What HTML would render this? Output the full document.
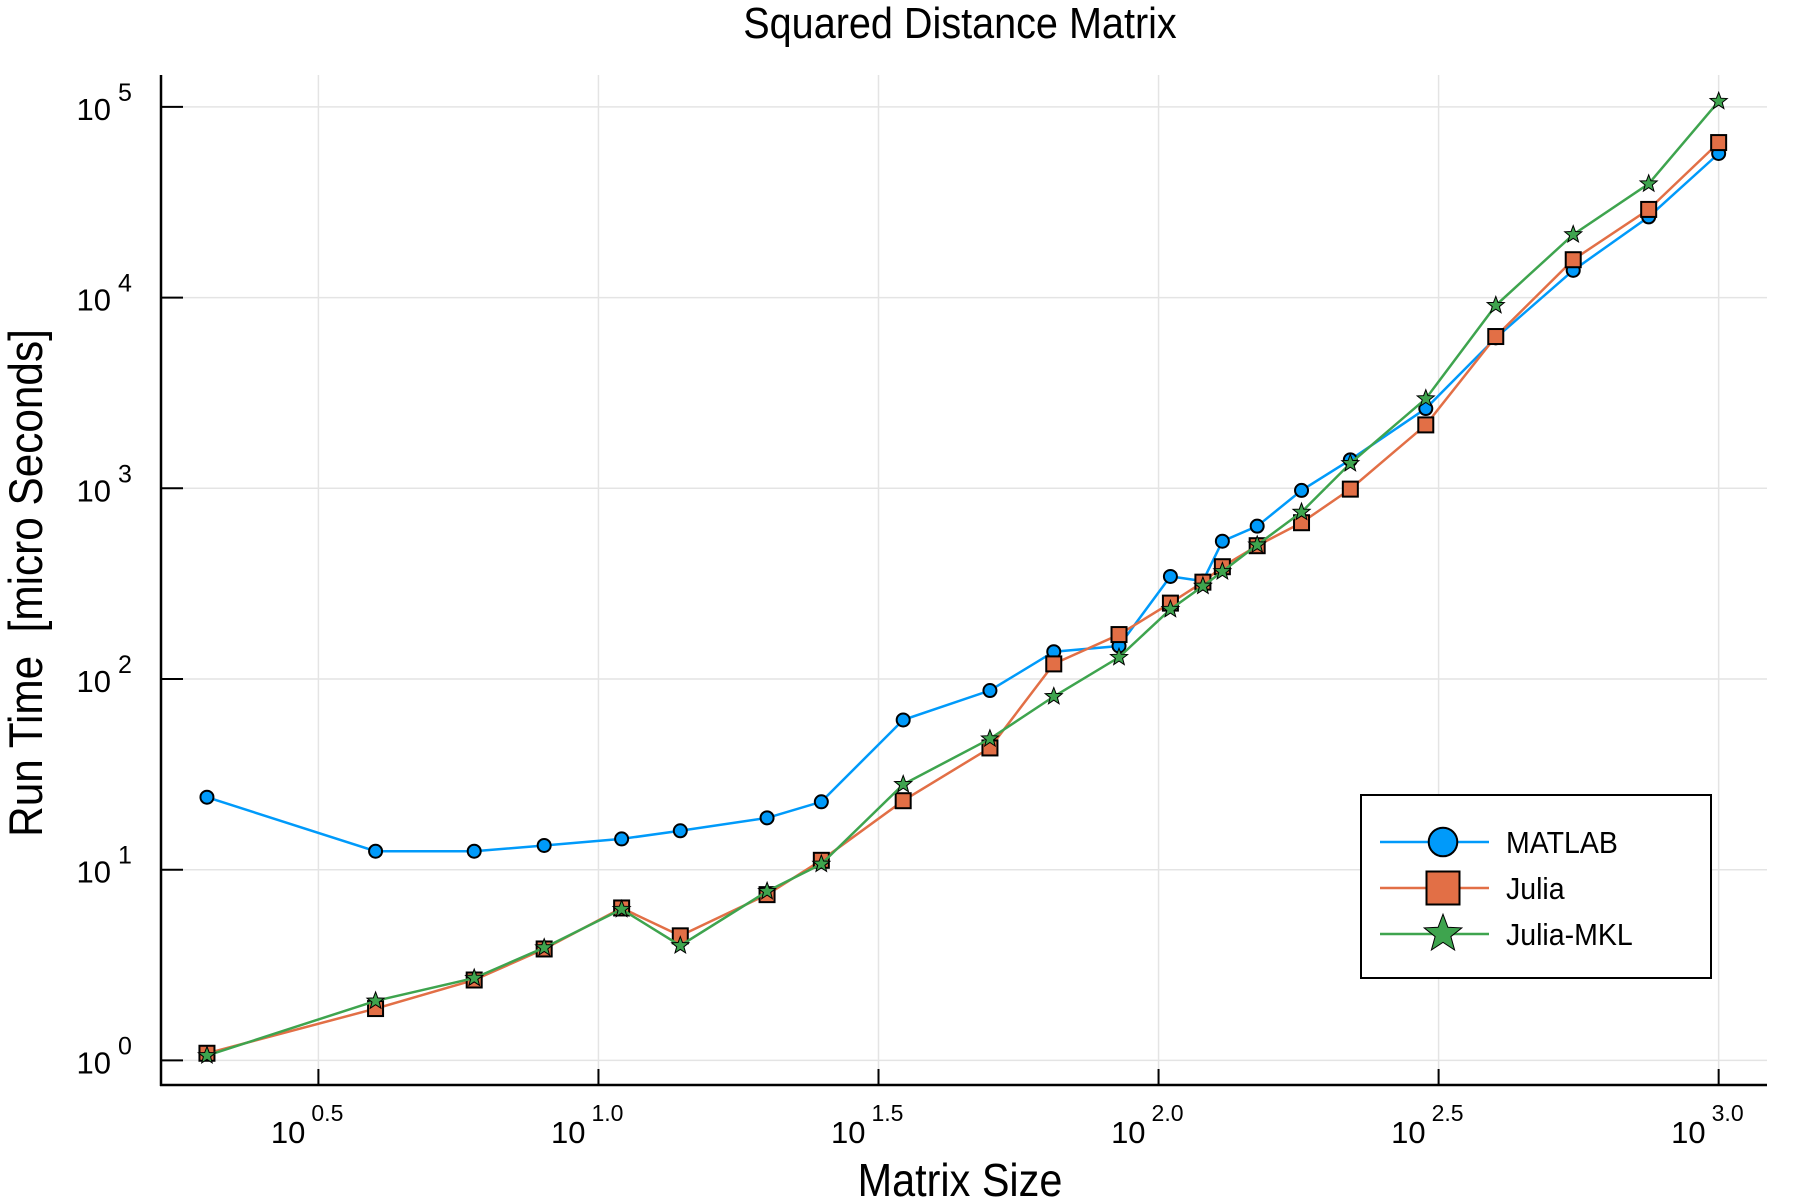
<!DOCTYPE html>
<html><head><meta charset="utf-8"><style>
html,body{margin:0;padding:0;background:#fff}
svg{display:block;font-family:"Liberation Sans",sans-serif}
</style></head><body>
<svg id="chart" width="1800" height="1200" viewBox="0 0 1800 1200" xmlns="http://www.w3.org/2000/svg">
<text x="960" y="38" font-size="44" text-anchor="middle" transform="translate(960 0) scale(0.9 1) translate(-960 0)">Squared Distance Matrix</text>
<g id="grid"></g>
<g id="axes"></g>
<g id="series"></g>
<text x="960" y="1196" font-size="46" text-anchor="middle" transform="translate(960 0) scale(0.9 1) translate(-960 0)">Matrix Size</text>
<text transform="translate(42 583) rotate(-90) scale(0.9 1)" font-size="47" text-anchor="middle" xml:space="preserve">Run Time &#160;[micro Seconds]</text>
<g id="legend"></g>
</svg>
<script>
const sizes=[2,4,6,8,11,14,20,25,35,50,65,85,105,120,130,150,180,220,300,400,550,750,1000];
const matlab=[24,12.5,12.5,13.4,14.5,16,18.7,22.7,61,87,139,149,345,326,528,633,975,1410,2620,6150,13900,26500,57000];
const julia=[1.09,1.87,2.64,3.84,6.3,4.5,7.4,11.2,23,43.5,120,171,250,322,388,500,660,990,2150,6250,15800,29000,65000];
const juliaMkl=[1.06,2.05,2.7,3.9,6.2,4.0,7.7,10.7,28,48.6,81,130,232,307,366,505,750,1350,2950,9100,21400,39500,107000];
const xTickExps=["0.5","1.0","1.5","2.0","2.5","3.0"];
const yTickExps=["0","1","2","3","4","5"];
const seriesNames=["MATLAB","Julia","Julia-MKL"];

const NS="http://www.w3.org/2000/svg";
const L=161,R=1767,T=75,B=1085;
const X0=318.4,XD=560.1;
const Y0=1060.4,YD=190.7;
function xs(v){return X0+(Math.log10(v)-0.5)*XD;}
function xe(e){return X0+(e-0.5)*XD;}
function ys(v){return Y0-Math.log10(v)*YD;}
function ye(e){return Y0-e*YD;}
function mk(tag,attrs,parent){const el=document.createElementNS(NS,tag);for(const k in attrs)el.setAttribute(k,attrs[k]);parent.appendChild(el);return el;}
const grid=document.getElementById('grid'),axes=document.getElementById('axes'),ser=document.getElementById('series'),leg=document.getElementById('legend');

xTickExps.forEach(e=>{const x=xe(parseFloat(e));
 const g=mk('line',{x1:x,x2:x,y1:T,y2:B,stroke:'#e4e4e4','stroke-width':1.5},grid);
 
 const t=mk('line',{x1:x,x2:x,y1:B,y2:B-16,stroke:'#000','stroke-width':2},axes);
 
 const lb=mk('text',{x:x-13,y:1143,'font-size':31,'text-anchor':'end'},axes);lb.textContent='10';
 
 const sp=mk('text',{x:x-7,y:1121,'font-size':23},axes);sp.textContent=e;
 
});
yTickExps.forEach(e=>{const y=ye(parseFloat(e));
 const g=mk('line',{x1:L,x2:R,y1:y,y2:y,stroke:'#e4e4e4','stroke-width':1.5},grid);
 
 const t=mk('line',{x1:L,x2:L+22,y1:y,y2:y,stroke:'#000','stroke-width':2},axes);
 
 const lb=mk('text',{x:111,y:y+13,'font-size':31,'text-anchor':'end'},axes);lb.textContent='10';
 
 const sp=mk('text',{x:118,y:y-6,'font-size':25},axes);sp.textContent=e;
 
});
const ax1=mk('line',{x1:L,x2:L,y1:T,y2:B+1,stroke:'#000','stroke-width':2.5},axes);

const ax2=mk('line',{x1:L-1,x2:R,y1:B,y2:B,stroke:'#000','stroke-width':2.5},axes);


const colors=['#009AFA','#E26F46','#3EA44E'];
function starPts(cx,cy,r){let p=[];for(let i=0;i<10;i++){const a=-Math.PI/2+i*Math.PI/5;const rr=i%2?r*0.42:r;p.push((cx+rr*Math.cos(a)).toFixed(1)+','+(cy+rr*Math.sin(a)).toFixed(1));}return p.join(' ');}
function marker(kind,x,y,c,parent,scale){
 let m;
 if(kind===0)m=mk('circle',{cx:x,cy:y,r:6.5*scale,fill:c,stroke:'#000','stroke-width':2},parent);
 else if(kind===1)m=mk('rect',{x:x-7.5*scale,y:y-7.5*scale,width:15*scale,height:15*scale,fill:c,stroke:'#000','stroke-width':2},parent);
 else m=mk('polygon',{points:starPts(x,y,9*scale),fill:c,stroke:'#000','stroke-width':1},parent);
 return m;
}
[matlab,julia,juliaMkl].forEach((vals,k)=>{
 const g=mk('g',{},ser);
 
 
 const pts=vals.map((v,i)=>xs(sizes[i]).toFixed(1)+','+ys(v).toFixed(1)).join(' ');
 const pl=mk('polyline',{points:pts,fill:'none',stroke:colors[k],'stroke-width':2.5},g);
 
 
 vals.forEach((v,i)=>{const m=marker(k,xs(sizes[i]),ys(v),colors[k],g,1);
  
  });
});
const box=mk('rect',{x:1361,y:795,width:350,height:183,fill:'#fff',stroke:'#000','stroke-width':2},leg);

seriesNames.forEach((n,k)=>{const y=842+k*46;
 const g=mk('g',{},leg);
 
 
 mk('line',{x1:1380,x2:1489,y1:y,y2:y,stroke:colors[k],'stroke-width':2.5},g);
 marker(k,1443,y,colors[k],g,2.2);
 const t=mk('text',{x:1506,y:y+11,'font-size':31,transform:'translate(1506 0) scale(0.92 1) translate(-1506 0)'},g);t.textContent=n;
});
</script>
</body></html>
